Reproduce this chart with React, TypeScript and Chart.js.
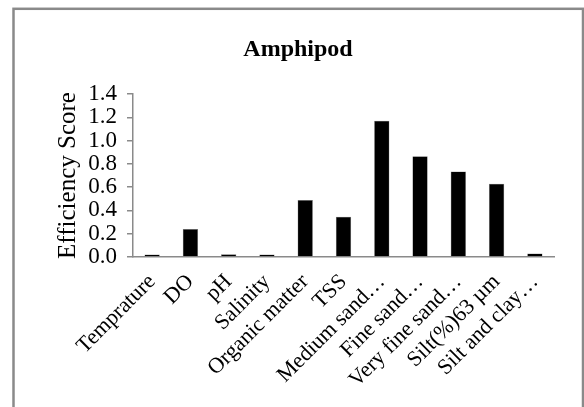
import React, { useEffect, useRef } from "react";
import { Chart, registerables } from "chart.js";

Chart.register(...registerables);

const categories: string[] = [
  "Temprature",
  "DO",
  "pH",
  "Salinity",
  "Organic matter",
  "TSS",
  "Medium sand…",
  "Fine sand…",
  "Very fine sand…",
  "Silt(%)63 µm",
  "Silt and clay…",
];

const efficiencyScores: number[] = [0.022, 0.24, 0.024, 0.022, 0.49, 0.345, 1.17, 0.865, 0.735, 0.63, 0.03];

const yTicks: number[] = [0, 0.2, 0.4, 0.6, 0.8, 1.0, 1.2, 1.4];

const chartTitle = "Amphipod";
const yAxisTitle = "Efficiency Score";

const FONT = "'Liberation Serif', 'Times New Roman', serif";

const framePlugin = {
  id: "frame",
  beforeDraw(chart: any) {
    const ctx = chart.ctx;
    ctx.save();
    ctx.fillStyle = "#ffffff";
    ctx.fillRect(0, 0, chart.width, chart.height);
    ctx.strokeStyle = "#8a8a8a";
    ctx.lineWidth = 2.5;
    ctx.strokeRect(13.5, 8.8, 569.5, 430);
    ctx.fillStyle = "#000000";
    ctx.font = `bold 24px ${FONT}`;
    ctx.textAlign = "center";
    ctx.textBaseline = "middle";
    ctx.fillText(chartTitle, 298, 50);
    ctx.restore();
  },
};

export default function App() {
  const canvasRef = useRef<HTMLCanvasElement | null>(null);

  useEffect(() => {
    if (!canvasRef.current) return;
    const chart = new Chart(canvasRef.current, {
      type: "bar",
      data: {
        labels: categories,
        datasets: [
          {
            data: efficiencyScores,
            backgroundColor: "#000000",
            borderColor: "#7f7f7f",
            borderWidth: 0.5,
            barPercentage: 0.4,
            categoryPercentage: 1,
          },
        ],
      },
      options: {
        responsive: false,
        animation: false,
        devicePixelRatio: 1,
        layout: { padding: { top: 94, right: 30, left: 0, bottom: 0 } },
        plugins: {
          legend: { display: false },
          title: { display: false },
          tooltip: { enabled: false },
        },
        scales: {
          x: {
            grid: { display: false },
            border: { display: true, color: "#8a8a8a", width: 1.5 },
            ticks: {
              color: "#000000",
              font: { family: FONT, size: 22 },
              maxRotation: 45,
              minRotation: 45,
              autoSkip: false,
              padding: 4,
            },
            afterFit(scale: any) {
              scale.height = 150;
            },
          },
          y: {
            min: 0,
            max: 1.4,
            afterBuildTicks(scale: any) {
              scale.ticks = yTicks.map((v) => ({ value: v }));
            },
            grid: {
              display: true,
              drawOnChartArea: false,
              drawTicks: true,
              tickLength: 6,
              color: "#8a8a8a",
              lineWidth: 1.5,
            },
            border: { display: true, color: "#8a8a8a", width: 1.5 },
            ticks: {
              color: "#000000",
              font: { family: FONT, size: 23, lineHeight: 1 },
              padding: 10,
              autoSkip: false,
              callback: (v: any) => Number(v).toFixed(1),
            },
            title: {
              display: true,
              text: yAxisTitle,
              color: "#000000",
              font: { family: FONT, size: 25 },
              padding: { top: 53, bottom: 0 },
            },
            afterFit(scale: any) {
              scale.width = 133;
            },
          },
        },
      },
      plugins: [framePlugin],
    });
    return () => chart.destroy();
  }, []);

  return (
    <div style={{ position: "fixed", left: 0, top: 0, width: 584, height: 407 }}>
      <canvas ref={canvasRef} width={584} height={407} style={{ width: 584, height: 407, display: "block" }} />
    </div>
  );
}
